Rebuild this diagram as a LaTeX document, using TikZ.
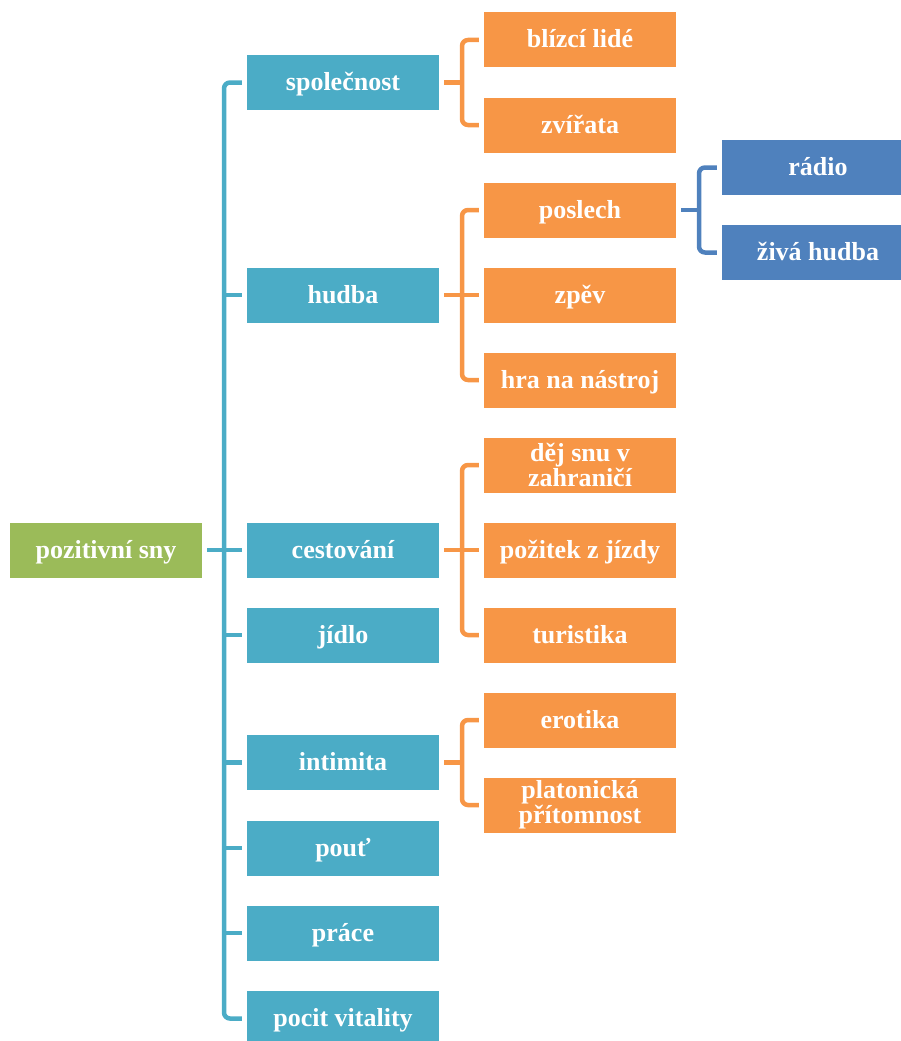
\documentclass[tikz,border=0pt]{standalone}
\usepackage{fontspec}
\setmainfont{Liberation Serif}
\usetikzlibrary{calc}
\definecolor{rootgreen}{HTML}{9BBB59}
\definecolor{lvlteal}{HTML}{4BACC6}
\definecolor{lvlorange}{HTML}{F79646}
\definecolor{lvlblue}{HTML}{4F81BD}
\tikzset{
  box/.style={minimum width=192pt, minimum height=55pt, inner sep=0pt,
    align=center, text=white, font=\fontsize{26}{25}\selectfont\bfseries},
  oneline/.style={text height=20pt, text depth=4pt},
  rootbox/.style={box, oneline, fill=rootgreen},
  tealbox/.style={box, oneline, fill=lvlteal},
  orangebox/.style={box, oneline, fill=lvlorange},
  orangetwo/.style={box, fill=lvlorange},
  bluebox/.style={box, oneline, fill=lvlblue},
  link/.style={line width=4.5pt, rounded corners=6pt},
}
\begin{document}
\begin{tikzpicture}[x=1pt, y=-1pt]
\path[use as bounding box, clip] (0,0) rectangle (901,1041);

% root
\node[rootbox] (root) at (106,550) {pozitivní sny};

% first level
\node[tealbox] (spol) at (343,82.5) {společnost};
\node[tealbox] (hudba) at (343,295) {hudba};
\node[tealbox] (cest) at (343,550) {cestování};
\node[tealbox] (jidlo) at (343,635) {jídlo};
\node[tealbox] (intim) at (343,762.5) {intimita};
\node[tealbox] (pout) at (343,848) {pouť};
\node[tealbox] (prace) at (343,933) {práce};
\node[tealbox] (vital) at (343,1018.5) {pocit vitality};

% second level
\node[orangebox] (lide) at (580,40) {blízcí lidé};
\node[orangebox] (zvir) at (580,125) {zvířata};
\node[orangebox] (posl) at (580,210) {poslech};
\node[orangebox] (zpev) at (580,295) {zpěv};
\node[orangebox] (hra) at (580,380) {hra na nástroj};
\node[orangetwo] (dej) at (580,465) {děj snu v\\zahraničí};
\node[orangebox] (pozit) at (580,550) {požitek z jízdy};
\node[orangebox] (turist) at (580,635) {turistika};
\node[orangebox] (erot) at (580,720) {erotika};
\node[orangetwo] (plat) at (580,805) {platonická\\přítomnost};

% third level
\node[bluebox] (radio) at (818,167.5) {rádio};
\node[bluebox] (ziva) at (818,252.5) {živá hudba};

% root to first level
\coordinate (b1) at (224,0);
\begin{scope}[link, draw=lvlteal]
  \draw ([xshift=-5pt]spol.west) -| (b1 |- vital.west) -- ([xshift=-5pt]vital.west);
  \draw ([xshift=5pt]root.east) -- ([xshift=-5pt]cest.west);
  \foreach \n in {hudba,jidlo,intim,pout,prace}
    \draw (b1 |- \n.west) -- ([xshift=-5pt]\n.west);
\end{scope}

% first level to second level
\coordinate (b2) at (462,0);
\begin{scope}[link, draw=lvlorange]
  \draw ([xshift=-5pt]lide.west) -| (b2 |- zvir.west) -- ([xshift=-5pt]zvir.west);
  \draw ([xshift=5pt]spol.east) -- (b2 |- spol.east);
  \draw ([xshift=-5pt]posl.west) -| (b2 |- hra.west) -- ([xshift=-5pt]hra.west);
  \draw ([xshift=5pt]hudba.east) -- ([xshift=-5pt]zpev.west);
  \draw ([xshift=-5pt]dej.west) -| (b2 |- turist.west) -- ([xshift=-5pt]turist.west);
  \draw ([xshift=5pt]cest.east) -- ([xshift=-5pt]pozit.west);
  \draw ([xshift=-5pt]erot.west) -| (b2 |- plat.west) -- ([xshift=-5pt]plat.west);
  \draw ([xshift=5pt]intim.east) -- (b2 |- intim.east);
\end{scope}

% second level to third level
\coordinate (b3) at (699,0);
\begin{scope}[link, draw=lvlblue]
  \draw ([xshift=-5pt]radio.west) -| (b3 |- ziva.west) -- ([xshift=-5pt]ziva.west);
  \draw ([xshift=5pt]posl.east) -- (b3 |- posl.east);
\end{scope}
\end{tikzpicture}
\end{document}
